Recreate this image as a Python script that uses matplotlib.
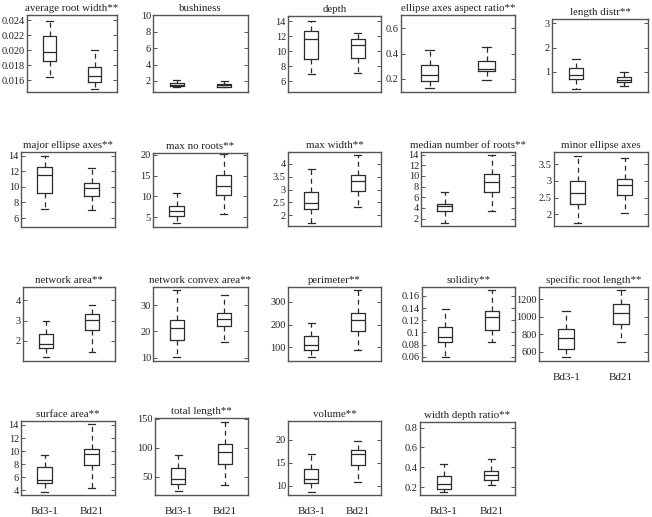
import matplotlib
matplotlib.use("Agg")
import matplotlib.pyplot as plt
from matplotlib.ticker import FuncFormatter

plt.rcParams['font.family'] = ['Liberation Serif', 'DejaVu Serif']

groups = ["Bd3-1", "Bd21"]

titles = [
    "average root width**", "bushiness", "depth", "ellipse axes aspect ratio**", "length distr**",
    "major ellipse axes**", "max no roots**", "max width**", "median number of roots**", "minor ellipse axes",
    "network area**", "network convex area**", "perimeter**", "solidity**", "specific root length**",
    "surface area**", "total length**", "volume**", "width depth ratio**",
]

# per panel: [whislo, q1, median, q3, whishi] for Bd3-1 and Bd21
bd31 = [
    [0.01644, 0.01853, 0.01978, 0.02187, 0.02391],
    [1.2, 1.35, 1.55, 1.76, 2.08],
    [6.93, 8.92, 11.65, 12.7, 14.0],
    [0.128, 0.187, 0.234, 0.314, 0.433],
    [0.31, 0.70, 0.86, 1.17, 1.52],
    [7.19, 9.23, 11.53, 12.55, 14.0],
    [3.6, 5.3, 6.5, 7.6, 10.8],
    [1.71, 2.23, 2.46, 2.92, 3.81],
    [1.2, 3.4, 4.3, 4.8, 7.0],
    [1.74, 2.32, 2.64, 3.0, 3.75],
    [1.2, 1.62, 1.82, 2.34, 3.0],
    [10.1, 16.6, 21.5, 24.56, 35.95],
    [58, 87, 110, 150, 208],
    [0.0598, 0.0843, 0.0932, 0.1097, 0.1381],
    [536, 634, 752, 862, 1067],
    [3.7, 5.1, 5.6, 7.5, 9.4],
    [25, 37.2, 45.3, 64.5, 87.8],
    [8.6, 10.6, 11.45, 13.8, 17.0],
    [0.146, 0.176, 0.227, 0.307, 0.431],
]
bd21 = [
    [0.0148, 0.01573, 0.01653, 0.01769, 0.02004],
    [1.2, 1.3, 1.5, 1.68, 1.95],
    [7.1, 9.1, 10.85, 11.65, 12.45],
    [0.19, 0.261, 0.282, 0.343, 0.449],
    [0.43, 0.59, 0.66, 0.77, 1.0],
    [6.98, 8.85, 9.87, 10.51, 12.38],
    [5.8, 10.3, 12.4, 15.2, 20.1],
    [2.32, 2.95, 3.31, 3.57, 4.35],
    [3.4, 6.9, 8.9, 10.3, 14.0],
    [2.03, 2.57, 2.89, 3.07, 3.68],
    [1.44, 2.52, 3.05, 3.34, 3.75],
    [16.1, 22.2, 24.9, 27.1, 34.05],
    [88, 173, 220, 253, 354],
    [0.0847, 0.1037, 0.125, 0.1355, 0.1705],
    [715, 912, 1045, 1147, 1310],
    [4.3, 7.85, 9.5, 10.4, 14.1],
    [35.5, 72.1, 91.9, 106.4, 144.8],
    [10.9, 14.6, 16.9, 17.75, 19.8],
    [0.22, 0.267, 0.32, 0.367, 0.481],
]

yticks = [
    [0.016, 0.018, 0.020, 0.022, 0.024],
    [2, 4, 6, 8, 10],
    [6, 8, 10, 12, 14],
    [0.2, 0.4, 0.6],
    [1, 2, 3],
    [6, 8, 10, 12, 14],
    [5, 10, 15, 20],
    [2, 2.5, 3, 3.5, 4],
    [2, 4, 6, 8, 10, 12, 14],
    [2, 2.5, 3, 3.5],
    [2, 3, 4],
    [10, 20, 30],
    [100, 200, 300],
    [0.06, 0.08, 0.1, 0.12, 0.14, 0.16],
    [600, 800, 1000, 1200],
    [4, 6, 8, 10, 12, 14],
    [50, 100, 150],
    [10, 15, 20],
    [0.2, 0.4, 0.6, 0.8],
]

ylims = [
    (0.0144, 0.0247), (0.65, 10.05), (4.6, 14.7), (0.097, 0.706), (0.17, 3.18),
    (4.85, 14.45), (2.66, 20.4), (1.59, 4.45), (0.6, 14.5), (1.65, 3.87),
    (1.0, 4.66), (8.73, 36.96), (40, 366), (0.0529, 0.1748), (494, 1340),
    (3.29, 14.61), (18, 151.7), (8.04, 24.13), (0.12, 0.857),
]

# axes boxes in pixels: left, top, right, bottom
boxes_px = [
    (27, 15, 117, 92), (153, 15, 248, 92), (288, 16, 381, 92), (401, 15, 515, 92), (552, 19, 648, 92),
    (21, 152, 115, 227), (153, 153, 247, 227), (288, 152, 381, 226), (421, 152, 515, 226), (554, 152, 648, 226),
    (23, 287, 115, 361), (153, 287, 248, 361), (288, 287, 381, 361), (422, 287, 515, 361), (539, 287, 648, 361),
    (21, 421, 115, 495), (155, 418, 248, 495), (288, 421, 381, 495), (420, 422, 515, 495),
]

show_xlabels = {14, 15, 16, 17, 18}
W, H = 652, 517
fig = plt.figure(figsize=(W / 100, H / 100), dpi=100)

line_c = "#2b2b2b"
spine_c = "#555555"
text_c = "#222222"

for i, title in enumerate(titles):
    l, t, r, b = boxes_px[i]
    ax = fig.add_axes([l / W, 1 - b / H, (r - l) / W, (b - t) / H])
    stats = []
    for g, vals in zip(groups, (bd31[i], bd21[i])):
        lo, q1, med, q3, hi = vals
        stats.append(dict(label=g, whislo=lo, q1=q1, med=med, q3=q3, whishi=hi, fliers=[]))
    ax.bxp(stats, positions=[1, 2], widths=0.3, showfliers=False, capwidths=0.15,
           boxprops=dict(color=line_c, linewidth=0.9),
           medianprops=dict(color=line_c, linewidth=0.9),
           whiskerprops=dict(color=line_c, linewidth=0.9, linestyle=(0, (4, 3))),
           capprops=dict(color=line_c, linewidth=0.9))
    ax.set_xlim(0.5, 2.5)
    ax.set_ylim(*ylims[i])
    ax.set_yticks(yticks[i])
    if i == 0:
        ax.yaxis.set_major_formatter(FuncFormatter(lambda v, p: "%.3f" % v))
    else:
        ax.yaxis.set_major_formatter(FuncFormatter(lambda v, p: "%g" % v))
    ax.set_xticks([1, 2])
    if i in show_xlabels:
        ax.set_xticklabels(groups)
    else:
        ax.set_xticklabels([])
    ax.tick_params(axis='x', length=0, pad=9, labelsize=8, colors=text_c)
    ax.tick_params(axis='y', direction='in', length=3, width=0.7, right=True,
                   labelsize=7.5, labelcolor=text_c, color=spine_c, pad=1.5)
    for s in ax.spines.values():
        s.set_color(spine_c)
        s.set_linewidth(1.0)
    ax.set_title(title, fontsize=7.8, pad=3, color=text_c)

fig.savefig("out.png", dpi=100)
